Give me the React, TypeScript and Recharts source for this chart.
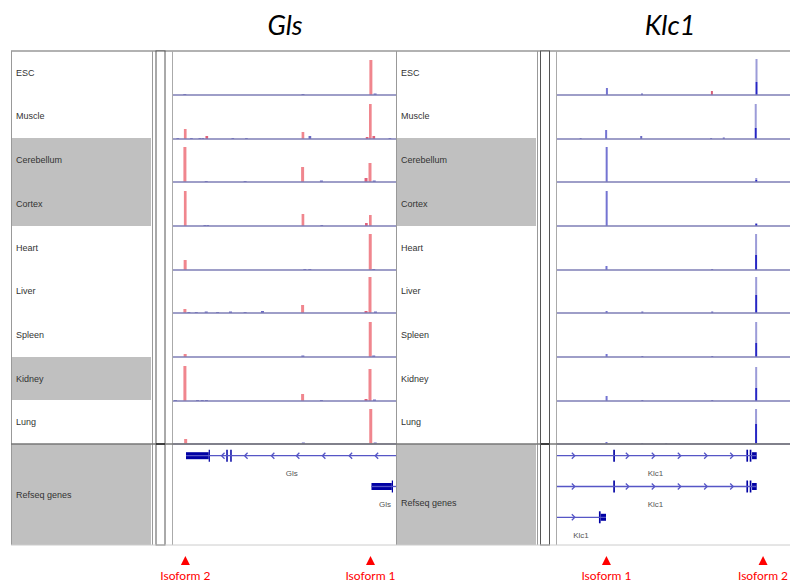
import { Bar, BarChart, ComposedChart, ReferenceArea, ReferenceLine, Scatter, XAxis, YAxis } from 'recharts'

const tissues = ['ESC', 'Muscle', 'Cerebellum', 'Cortex', 'Heart', 'Liver', 'Spleen', 'Kidney', 'Lung']
const glsShaded = ['Cerebellum', 'Cortex', 'Kidney']
const klc1Shaded = ['Cerebellum', 'Cortex']

// Gls window, kb from the left edge of the view
const glsDomain: [number, number] = [0, 90]
const glsIso2Pos = 5.0
const glsMidPos = 52.5
const glsIso1Pos = 79.7
// peak heights per tissue, same order as tissues
const glsIso2 = [0, 10, 35, 35, 10, 4, 3, 35, 5]
const glsMid = [0, 7, 15, 12, 0, 8, 0, 7, 0]
const glsIso1 = [35, 35, 19, 11, 36, 36, 35, 32, 35]
// small reads: [tissue, kb, height, colour]
type Minor = [number, number, number, 'b' | 'r']
const glsMinor: Minor[] = [
  [0, 4.6, 1, 'b'], [0, 52.3, 1, 'b'], [0, 81.4, 1.5, 'b'],
  [1, 2.0, 1, 'b'], [1, 7.5, 1, 'b'], [1, 10.9, 1, 'b'], [1, 12.1, 1, 'b'], [1, 13.7, 3, 'r'],
  [1, 24.2, 1, 'b'], [1, 29.7, 1, 'b'], [1, 55.3, 3, 'b'], [1, 78.4, 2, 'r'], [1, 81.1, 3, 'r'], [1, 87.6, 1, 'b'],
  [2, 13.6, 1, 'b'], [2, 29.3, 1, 'b'], [2, 60.1, 1.5, 'b'], [2, 78.1, 4, 'r'], [2, 81.4, 1.5, 'b'],
  [3, 12.9, 1, 'b'], [3, 14.1, 1, 'b'], [3, 60.1, 1, 'b'], [3, 78.1, 3, 'r'],
  [4, 53.3, 1, 'b'], [4, 55.3, 1, 'b'], [4, 81.1, 1, 'b'],
  [5, 6.6, 1, 'b'], [5, 9.6, 1, 'b'], [5, 13.6, 1.5, 'b'], [5, 18.2, 1, 'b'], [5, 23.4, 1.5, 'b'],
  [5, 29.3, 1, 'b'], [5, 36.3, 2, 'b'], [5, 78.1, 2, 'r'], [5, 81.9, 1.5, 'b'],
  [6, 52.5, 1.5, 'b'], [6, 81.1, 1.5, 'b'],
  [7, 1.2, 1, 'b'], [7, 10.1, 1, 'b'], [7, 12.0, 1, 'b'], [7, 13.7, 1, 'b'], [7, 60.1, 1, 'b'], [7, 78.1, 2, 'r'], [7, 81.5, 1.5, 'b'],
  [8, 52.5, 1.5, 'b'], [8, 81.5, 1.5, 'b'],
]

// Klc1 window, kb from the left edge of the view
const klc1Domain: [number, number] = [0, 35]
const klc1Iso1Pos = 7.43
const klc1Iso2Pos = 29.9
const klc1Iso1 = [7, 9, 35, 35, 4, 2, 3, 5, 2]
const klc1Iso2 = [36, 35, 4, 3, 36, 36, 35, 34, 35]
// darker lower part of the isoform 2 peak
const klc1Iso2Dense = [13, 11, 2, 2, 15, 18, 14, 13, 20]
const klc1Minor: Minor[] = [
  [0, 12.7, 1.5, 'b'], [0, 23.2, 4, 'r'],
  [1, 3.6, 1, 'b'], [1, 12.7, 3, 'b'], [1, 23.2, 1, 'b'], [1, 25.1, 1.5, 'b'],
  [4, 23.3, 1, 'b'],
  [5, 12.8, 1.5, 'b'], [5, 23.3, 1.5, 'b'],
  [6, 12.8, 1, 'b'], [6, 23.3, 1, 'b'],
  [7, 12.8, 1, 'b'], [7, 23.3, 1, 'b'],
  [8, 12.8, 1, 'b'], [8, 16.4, 1, 'b'],
]

type Exon = [number, number, 'utr' | 'cds']
type Gene = { name: string; row: number; from: number; to: number; strand: '+' | '-'; labelAt: number; exons: Exon[]; chevrons: number[] }

const glsGenes: Gene[] = [
  {
    name: 'Gls', row: 0, from: 5.25, to: 90, strand: '-', labelAt: 47.9,
    exons: [[5.25, 14.4, 'utr'], [14.4, 14.9, 'cds'], [21.5, 22.1, 'cds'], [23.1, 23.7, 'cds']],
    chevrons: [20.2, 29.5, 40.3, 50.4, 60.9, 71.7, 82.2],
  },
  {
    name: 'Gls', row: 1, from: 80.1, to: 90, strand: '-', labelAt: 85.6,
    exons: [[80.1, 88.3, 'utr'], [88.3, 88.8, 'cds']],
    chevrons: [],
  },
]

const klc1Genes: Gene[] = [
  {
    name: 'Klc1', row: 0, from: 0, to: 30.0, strand: '+', labelAt: 14.8,
    exons: [[8.45, 8.7, 'cds'], [28.45, 28.7, 'cds'], [28.95, 29.2, 'cds'], [29.3, 30.0, 'utr']],
    chevrons: [2.45, 10.56, 14.46, 18.37, 22.33, 26.24],
  },
  {
    name: 'Klc1', row: 1, from: 0, to: 30.0, strand: '+', labelAt: 14.8,
    exons: [[8.45, 8.7, 'cds'], [28.45, 28.7, 'cds'], [28.95, 29.2, 'cds'], [29.3, 30.0, 'utr']],
    chevrons: [2.45, 10.56, 14.46, 18.37, 22.33, 26.24],
  },
  {
    name: 'Klc1', row: 2, from: 0, to: 7.36, strand: '+', labelAt: 3.6,
    exons: [[6.3, 6.55, 'cds'], [6.55, 7.36, 'utr']],
    chevrons: [2.45],
  },
]

const glsMarks = [
  { label: 'Isoform 2', kb: glsIso2Pos },
  { label: 'Isoform 1', kb: glsIso1Pos },
]
const klc1Marks = [
  { label: 'Isoform 1', kb: klc1Iso1Pos },
  { label: 'Isoform 2', kb: 30.95 },
]

// layout
const TOP = 51
const ROW_H = 43.67
const TRACK_H = 45
const REFSEQ_TOP = 444
const REFSEQ_H = 101
const SANS = '"Liberation Sans", Arial, sans-serif'

type Series = { key: string; fill: string }

const glsSeries: Series[] = [
  { key: 'pink', fill: '#f0868e' },
  { key: 'red', fill: '#e0607a' },
  { key: 'blue', fill: '#6a6ac4' },
]
const klc1Series: Series[] = [
  { key: 'dense', fill: '#2626c4' },
  { key: 'light', fill: '#9c9cd8' },
  { key: 'mid', fill: '#7474d2' },
  { key: 'blue', fill: '#6a6ac4' },
  { key: 'red', fill: '#d86078' },
]

type Entry = [number, string, number]

const buildRows = (keys: string[], entries: Entry[]) => {
  const byPos = new Map<number, Record<string, number>>()
  entries.forEach(([pos, key, v]) => {
    if (!v) return
    const row = byPos.get(pos) ?? Object.fromEntries([['pos', pos], ...keys.map((k) => [k, 0])])
    row[key] += v
    byPos.set(pos, row)
  })
  return [...byPos.values()].sort((a, b) => a.pos - b.pos)
}

const minorEntries = (list: Minor[], t: number): Entry[] =>
  list.filter((m) => m[0] === t).map(([, pos, h, c]) => [pos, c === 'b' ? 'blue' : 'red', h])

const glsRows = (t: number) =>
  buildRows(glsSeries.map((s) => s.key), [
    [glsIso2Pos, 'pink', glsIso2[t]],
    [glsMidPos, 'pink', glsMid[t]],
    [glsIso1Pos, 'pink', glsIso1[t]],
    ...minorEntries(glsMinor, t),
  ])

const klc1Rows = (t: number) =>
  buildRows(klc1Series.map((s) => s.key), [
    [klc1Iso1Pos, 'mid', klc1Iso1[t]],
    [klc1Iso2Pos, 'dense', klc1Iso2Dense[t]],
    [klc1Iso2Pos, 'light', klc1Iso2[t] - klc1Iso2Dense[t]],
    ...minorEntries(klc1Minor, t),
  ])

type PanelProps = {
  nameLeft: number
  dataLeft: number
  dataWidth: number
  domain: [number, number]
  shaded: string[]
  rows: (t: number) => Record<string, number>[]
  series: Series[]
  barSize: number
  genes: Gene[]
  cdsWidthKb: number
  refseqLabelPad: number
}

const UTR_HALF = 3.5 / 30.8
const CDS_HALF = 6 / 30.8

const Chevron = (dir: '+' | '-') => (props: any) => {
  const { cx, cy } = props
  const d = dir === '-' ? `M${cx + 1.5},${cy - 3} L${cx - 1.5},${cy} L${cx + 1.5},${cy + 3}` : `M${cx - 1.5},${cy - 3} L${cx + 1.5},${cy} L${cx - 1.5},${cy + 3}`
  return <path d={d} fill="none" stroke="#5656c6" strokeWidth={1.3} />
}

const GeneLabel = (props: any) => {
  const { cx, cy, payload } = props
  return (
    <text x={cx} y={cy} textAnchor="middle" dominantBaseline="middle" fontSize={8} fontFamily={SANS} fill="#555">
      {payload.name}
    </text>
  )
}

const Panel = ({ nameLeft, dataLeft, dataWidth, domain, shaded, rows, series, barSize, genes, refseqLabelPad }: PanelProps) => (
  <>
    {tissues.map((t, i) => (
      <div
        key={t}
        style={{
          position: 'absolute',
          left: nameLeft,
          top: TOP + i * ROW_H,
          width: 140,
          height: ROW_H,
          background: shaded.includes(t) ? '#c0c0c0' : 'transparent',
          display: 'flex',
          alignItems: 'center',
          paddingLeft: 5,
          boxSizing: 'border-box',
          fontFamily: SANS,
          fontSize: 9,
          color: '#333',
        }}
      >
        {t}
      </div>
    ))}
    <div
      style={{
        position: 'absolute',
        left: nameLeft,
        top: REFSEQ_TOP,
        width: 140,
        height: REFSEQ_H,
        background: '#c0c0c0',
        display: 'flex',
        alignItems: 'center',
        paddingLeft: 5,
        paddingTop: refseqLabelPad,
        boxSizing: 'border-box',
        fontFamily: SANS,
        fontSize: 9,
        color: '#333',
      }}
    >
      Refseq genes
    </div>

    {tissues.map((t, i) => (
      <div key={t} style={{ position: 'absolute', left: dataLeft, top: TOP + i * ROW_H }}>
        <BarChart width={dataWidth} height={TRACK_H} data={rows(i)} margin={{ top: 0, right: 0, bottom: 1, left: 0 }}>
          <XAxis type="number" dataKey="pos" domain={domain} hide allowDataOverflow />
          <YAxis type="number" domain={[0, 44]} hide allowDataOverflow />
          {series.map((s) => (
            <Bar key={s.key} dataKey={s.key} stackId="reads" fill={s.fill} barSize={barSize} isAnimationActive={false} />
          ))}
          <ReferenceLine y={0} stroke="#7e7eb6" strokeWidth={1.4} />
        </BarChart>
      </div>
    ))}

    <div style={{ position: 'absolute', left: dataLeft, top: REFSEQ_TOP }}>
      <ComposedChart width={dataWidth} height={REFSEQ_H} margin={{ top: 0, right: 0, bottom: 0, left: 0 }}>
        <XAxis type="number" dataKey="x" domain={domain} hide allowDataOverflow />
        <YAxis type="number" dataKey="y" domain={[-0.38, 2.9]} reversed hide allowDataOverflow />
        {genes.map((g, gi) => (
          <ReferenceLine
            key={`line${gi}`}
            segment={[{ x: g.from, y: g.row }, { x: g.to, y: g.row }]}
            stroke="#5656c6"
            strokeWidth={1.3}
            ifOverflow="hidden"
          />
        ))}
        {genes.flatMap((g, gi) =>
          g.exons.map(([s, e, kind], ei) => {
            const half = kind === 'utr' ? UTR_HALF : CDS_HALF
            return (
              <ReferenceArea
                key={`ex${gi}-${ei}`}
                x1={s}
                x2={e}
                y1={g.row - half}
                y2={g.row + half}
                fill="#0000a4"
                fillOpacity={1}
                stroke="none"
                ifOverflow="hidden"
              />
            )
          }),
        )}
        {genes.map((g, gi) => (
          <Scatter
            key={`chev${gi}`}
            data={g.chevrons.map((x) => ({ x, y: g.row }))}
            shape={Chevron(g.strand)}
            isAnimationActive={false}
          />
        ))}
        <Scatter
          data={genes.map((g) => ({ x: g.labelAt, y: g.row + 0.6, name: g.name }))}
          shape={GeneLabel}
          isAnimationActive={false}
        />
      </ComposedChart>
    </div>
  </>
)

const toX = (kb: number, left: number, width: number, domain: [number, number]) =>
  left + ((kb - domain[0]) / (domain[1] - domain[0])) * width

const Marks = ({ marks, left, width, domain }: { marks: { label: string; kb: number }[]; left: number; width: number; domain: [number, number] }) => (
  <>
    {marks.map((m, i) => {
      const x = toX(m.kb, left, width, domain)
      return (
        <g key={i}>
          <polygon points={`${x},556 ${x - 4.5},565 ${x + 4.5},565`} fill="#ff0000" />
          <text x={x} y={580} textAnchor="middle" fontSize={12} fontFamily="Lato, sans-serif" fill="#ff0000">
            {m.label}
          </text>
        </g>
      )
    })}
  </>
)

const GLS_LEFT = 173
const GLS_WIDTH = 223
const KLC1_LEFT = 557
const KLC1_WIDTH = 233

export default function App() {
  const bottom = REFSEQ_TOP + REFSEQ_H
  return (
    <div style={{ position: 'absolute', left: 0, top: 0, width: 790, height: 585, background: '#fff', overflow: 'hidden' }}>
      <div style={{ position: 'absolute', left: 0, top: 8, width: 570, textAlign: 'center', fontFamily: 'Lato, sans-serif', fontStyle: 'italic', fontSize: 27 }}>
        Gls
      </div>
      <div style={{ position: 'absolute', left: 550, top: 8, width: 240, textAlign: 'center', fontFamily: 'Lato, sans-serif', fontStyle: 'italic', fontSize: 27 }}>
        Klc1
      </div>

      <Panel
        nameLeft={11}
        dataLeft={GLS_LEFT}
        dataWidth={GLS_WIDTH}
        domain={glsDomain}
        shaded={glsShaded}
        rows={glsRows}
        series={glsSeries}
        barSize={3}
        genes={glsGenes}
        cdsWidthKb={0.6}
        refseqLabelPad={0}
      />
      <Panel
        nameLeft={396}
        dataLeft={KLC1_LEFT}
        dataWidth={KLC1_WIDTH}
        domain={klc1Domain}
        shaded={klc1Shaded}
        rows={klc1Rows}
        series={klc1Series}
        barSize={2}
        genes={klc1Genes}
        cdsWidthKb={0.22}
        refseqLabelPad={16}
      />

      <svg width={790} height={585} style={{ position: 'absolute', left: 0, top: 0, pointerEvents: 'none' }}>
        {/* panel frames */}
        <line x1={11} y1={TOP} x2={790} y2={TOP} stroke="#999" strokeWidth={1.5} />
        <line x1={11.5} y1={TOP} x2={11.5} y2={bottom} stroke="#999" />
        {[152, 396, 537].map((x) => (
          <line key={x} x1={x + 0.5} y1={TOP} x2={x + 0.5} y2={bottom} stroke="#999" />
        ))}
        {[173, 557].map((x) => (
          <line key={x} x1={x - 0.5} y1={TOP} x2={x - 0.5} y2={bottom} stroke="#aaa" />
        ))}
        {[156, 540.5].map((x) => (
          <rect key={x} x={x} y={TOP} width={9} height={bottom - TOP} fill="#fff" stroke="#555" />
        ))}
        <line x1={11} y1={REFSEQ_TOP} x2={790} y2={REFSEQ_TOP} stroke="#777" strokeWidth={1.5} />
        {[156, 540.5].map((x) => (
          <line key={x} x1={x} y1={REFSEQ_TOP} x2={x + 9} y2={REFSEQ_TOP} stroke="#222" strokeWidth={1.5} />
        ))}
        <line x1={11} y1={bottom} x2={790} y2={bottom} stroke="#ccc" />

        <Marks marks={glsMarks} left={GLS_LEFT} width={GLS_WIDTH} domain={glsDomain} />
        <Marks marks={klc1Marks} left={KLC1_LEFT} width={KLC1_WIDTH} domain={klc1Domain} />
      </svg>
    </div>
  )
}
